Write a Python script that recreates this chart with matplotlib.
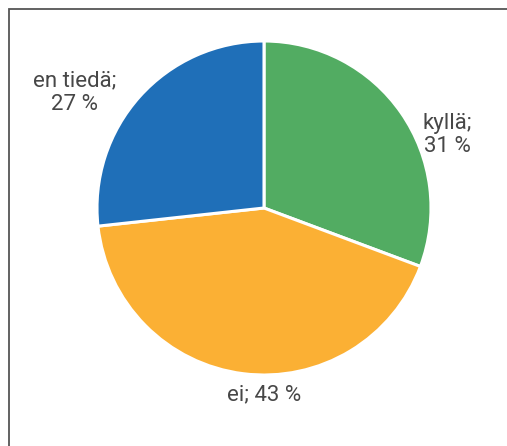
import matplotlib
matplotlib.use("Agg")
import matplotlib.pyplot as plt
from matplotlib.patches import Rectangle

categories = ["kyllä", "ei", "en tiedä"]
values = [31, 43, 27]
colors = ["#52AC62", "#FBB034", "#1F6FB8"]
label_pos = [(1.096, 0.437), (0.0, -1.12), (-1.132, 0.689)]

W, H = 507, 446
fig = plt.figure(figsize=(W / 100, H / 100), dpi=100)
fig.patch.set_facecolor("white")

# outer frame (extends past right/bottom edge)
fig.patches.append(Rectangle((8.5 / W, -0.1), 1.2, (H - 8.5) / H + 0.1,
                             transform=fig.transFigure, fill=False,
                             edgecolor="#555555", linewidth=1.3))

cx, cy, r = 264, 208, 167
ax = fig.add_axes([(cx - r) / W, (H - cy - r) / H, 2 * r / W, 2 * r / H])
ax.pie(values, colors=colors, startangle=90, counterclock=False, radius=1,
       wedgeprops=dict(edgecolor="white", linewidth=2.2))
ax.set_xlim(-1, 1)
ax.set_ylim(-1, 1)
ax.set_aspect("auto")
ax.axis("off")

for cat, v, (x, y) in zip(categories, values, label_pos):
    txt = f"{cat}; {v} %" if cat == "ei" else f"{cat};\n{v} %"
    ax.text(x, y, txt, ha="center", va="center", fontsize=16,
            family=["Roboto", "DejaVu Sans"], fontweight="normal",
            color="#474747", linespacing=1.18, clip_on=False)

fig.savefig("out.png", dpi=100, facecolor="white")
